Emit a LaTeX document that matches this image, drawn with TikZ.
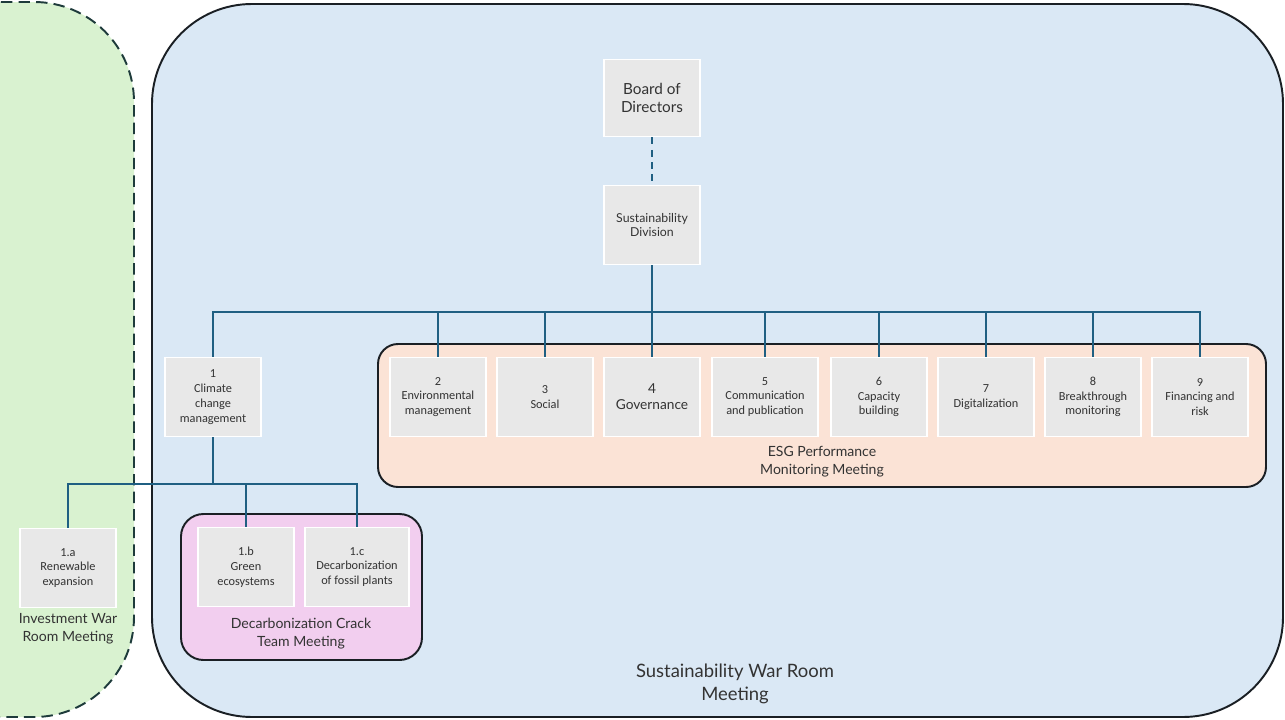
\documentclass[tikz,border=0pt]{standalone}
\usepackage{fontspec}
\setmainfont{Carlito}
\newfontfamily\headfont{Lato}
\definecolor{warblue}{HTML}{DAE8F5}
\definecolor{invgreen}{HTML}{D9F2D0}
\definecolor{esgpeach}{HTML}{FBE3D6}
\definecolor{crackpink}{HTML}{F2CEEF}
\definecolor{boxgray}{HTML}{E8E8E8}
\definecolor{linkblue}{HTML}{1F5F82}
\definecolor{edgedark}{HTML}{1A1F24}
\definecolor{dashdark}{HTML}{1E3B3B}
\definecolor{textgray}{HTML}{333333}
\begin{document}
\begin{tikzpicture}[x=0.02cm, y=-0.02cm,
  unit/.style={draw=white, line width=1.1pt, fill=boxgray, text=textgray, align=center,
    minimum width=1.92cm, minimum height=1.58cm, inner sep=1pt, font=\fontsize{7}{8.4}\selectfont},
  link/.style={draw=linkblue, line width=1.1pt},
  room/.style={draw=edgedark, line width=1.1pt},
  caption/.style={text=textgray, align=center, font=\headfont\fontsize{8}{10.2}\selectfont}]
  \useasboundingbox (0,0) rectangle (1285,720);

  % meeting rooms
  \draw[room, draw=dashdark, dashed, dash pattern=on 6.5pt off 3.5pt, fill=invgreen, rounded corners=2cm] (-300,2) rectangle (134,717);
  \draw[room, fill=warblue, rounded corners=2cm] (152,4) rectangle (1283,717);
  \draw[room, fill=esgpeach, rounded corners=0.4cm] (378,344) rectangle (1266,487);
  \draw[room, fill=crackpink, rounded corners=0.45cm] (181,514) rectangle (422,660);

  \node[caption] (invlabel) at (68,629) {Investment War\\Room Meeting};
  \node[caption] (cracklabel) at (301,634) {Decarbonization Crack\\Team Meeting};
  \node[caption] (esglabel) at (822,462) {ESG Performance\\Monitoring Meeting};
  \node[caption, font=\headfont\fontsize{10.5}{13}\selectfont] (warlabel) at (735,684) {Sustainability War Room\\Meeting};

  % units
  \node[unit, font=\headfont\fontsize{8.7}{10.2}\selectfont, minimum height=1.54cm] (board) at (652,98) {Board of\\Directors};
  \node[unit, font=\headfont\fontsize{7}{8.5}\selectfont] (div) at (652,225) {Sustainability\\Division};

  \node[unit] (n1) at (213,397) {1\\Climate\\change\\management};
  \node[unit] (n2) at (438,397) {2\\Environmental\\management};
  \node[unit] (n3) at (545,397) {3\\Social};
  \node[unit, font=\headfont\fontsize{7.8}{9}\selectfont] (n4) at (652,397) {4\\Governance};
  \node[unit, minimum width=2.12cm] (n5) at (765,397) {5\\Communication\\and publication};
  \node[unit] (n6) at (879,397) {6\\Capacity\\building};
  \node[unit] (n7) at (986,397) {7\\Digitalization};
  \node[unit] (n8) at (1093,397) {8\\Breakthrough\\monitoring};
  \node[unit] (n9) at (1200,397) {9\\Financing and\\risk};

  \node[unit] (n1a) at (68,568) {1.a\\Renewable\\expansion};
  \node[unit] (n1b) at (246,567) {1.b\\Green\\ecosystems};
  \node[unit, minimum width=2.08cm] (n1c) at (357,567) {1.c\\Decarbonization\\of fossil plants};

  % connectors
  \coordinate (bus) at (652,312);
  \coordinate (subbus) at (213,484);
  \draw[link, dashed, dash pattern=on 4pt off 3pt] (board) -- (div);
  \draw[link] (div) -- (n4);
  \draw[link] (n1.north) |- (bus) -| (n9.north);
  \foreach \n in {2,3,5,6,7,8}
    \draw[link] (n\n.north) -- (n\n.north |- bus);
  \draw[link] (n1.south) -- (subbus);
  \draw[link] (n1a.north) |- (subbus) -| (n1c.north);
  \draw[link] (n1b.north) -- (n1b.north |- subbus);
\end{tikzpicture}
\end{document}
